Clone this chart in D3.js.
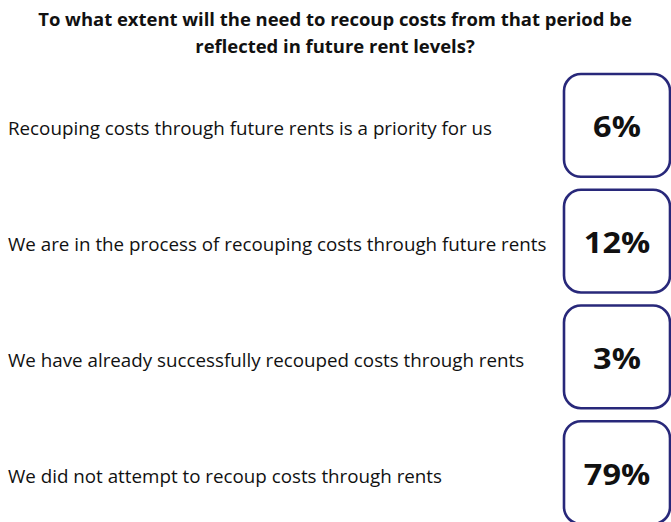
<!DOCTYPE html>
<html>
<head>
<meta charset="utf-8">
<script src="https://cdn.jsdelivr.net/npm/d3@7"></script>
<style>
  html, body { margin: 0; padding: 0; background: #ffffff; }
  svg { display: block; }
</style>
</head>
<body>
<svg id="chart" width="671" height="522"></svg>
<script>
// ---- data ----
const titleLines = [
  "To what extent will the need to recoup costs from that period be",
  "reflected in future rent levels?"
];
const categories = [
  "Recouping costs through future rents is a priority for us",
  "We are in the process of recouping costs through future rents",
  "We have already successfully recouped costs through rents",
  "We did not attempt to recoup costs through rents"
];
const values = [6, 12, 3, 79];

// ---- layout ----
const W = 671, H = 522;
const svg = d3.select("#chart");
svg.append("rect").attr("width", W).attr("height", H).attr("fill", "#ffffff");

const FONT = "'Open Sans', 'Noto Sans', sans-serif";
const ink = "#111111";
const navy = "#28287a";

const y = d3.scaleBand()
  .domain(categories)
  .range([74, 524])
  .paddingInner(0.112)
  .paddingOuter(0);

const boxX = 564, boxW = 106;
const fmt = d => d3.format("d")(d) + "%";

// Title (Myriad-like: taller glyphs, narrower set width -> horizontal squeeze)
const titleG = svg.append("g");
const tl = titleG.selectAll("text").data(titleLines).join("text")
  .attr("x", 0)
  .attr("y", (d, i) => 26 + i * 27)
  .attr("text-anchor", "middle")
  .attr("font-family", FONT)
  .attr("font-weight", 700)
  .attr("font-size", 17.5)
  .attr("fill", ink)
  .text(d => d);
const tw = tl.nodes()[0].getComputedTextLength();
titleG.attr("transform", `translate(335,0) scale(${594 / tw},1)`);

// Labels
const labelG = svg.append("g");
const labels = labelG.selectAll("text").data(categories).join("text")
  .attr("x", 0)
  .attr("y", d => y(d) + y.bandwidth() / 2 + 10)
  .attr("font-family", FONT)
  .attr("font-size", 18.5)
  .attr("fill", ink)
  .text(d => d);
const lw = labels.nodes()[1].getComputedTextLength();
labelG.attr("transform", `translate(8,0) scale(${539 / lw},1)`);

// Boxes
svg.append("g").selectAll("rect").data(categories).join("rect")
  .attr("x", boxX)
  .attr("y", d => y(d))
  .attr("width", boxW)
  .attr("height", y.bandwidth())
  .attr("rx", 17)
  .attr("ry", 17)
  .attr("fill", "none")
  .attr("stroke", navy)
  .attr("stroke-width", 2.6);

// Values
svg.append("g").selectAll("text").data(values).join("text")
  .attr("transform", (d, i) =>
    `translate(${boxX + boxW / 2},${y(categories[i]) + y.bandwidth() / 2 + 12}) scale(1.12,1)`)
  .attr("text-anchor", "middle")
  .attr("font-family", FONT)
  .attr("font-weight", 700)
  .attr("font-size", 29)
  .attr("fill", ink)
  .text(d => fmt(d));
</script>
</body>
</html>
